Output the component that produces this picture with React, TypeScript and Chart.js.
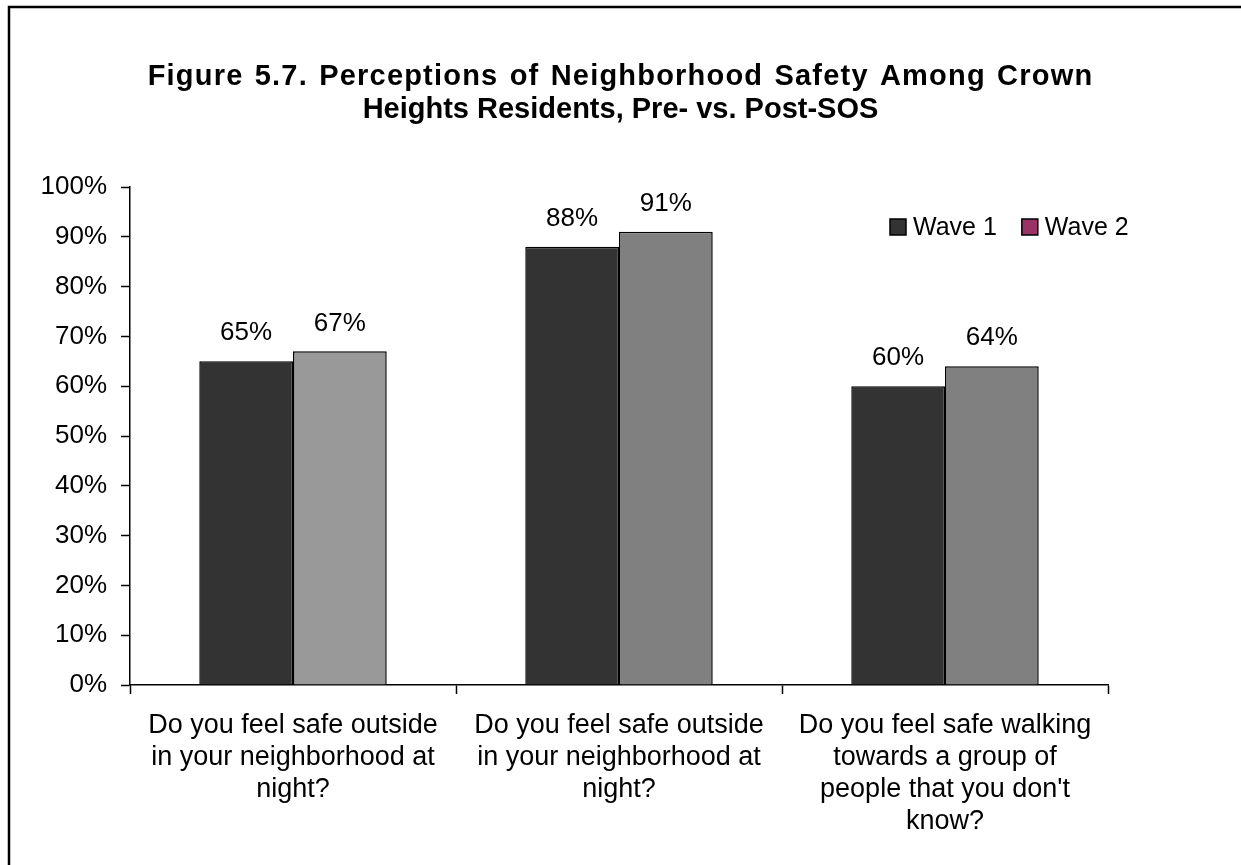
import React, { useEffect, useRef } from "react";
import { Chart, registerables } from "chart.js";

Chart.register(...registerables);

const titleLines = [
  "Figure 5.7. Perceptions of Neighborhood Safety Among Crown",
  "Heights Residents, Pre- vs. Post-SOS",
];
const categories: string[][] = [
  ["Do you feel safe outside", "in your neighborhood at", "night?"],
  ["Do you feel safe outside", "in your neighborhood at", "night?"],
  ["Do you feel safe walking", "towards a group of", "people that you don't", "know?"],
];
const seriesNames = ["Wave 1", "Wave 2"];
const wave1 = [65, 88, 60];
const wave2 = [67, 91, 64];
const wave1Colors = ["#333333", "#333333", "#333333"];
const wave2Colors = ["#999999", "#808080", "#808080"];
const legendColors = ["#333333", "#993366"];
const yMin = 0;
const yMax = 100;
const yStep = 10;

const FONT = "'Liberation Sans', Arial, sans-serif";

const overlay = {
  id: "overlay",
  beforeDraw(chart: any) {
    const ctx = chart.ctx;
    ctx.save();
    ctx.fillStyle = "#ffffff";
    ctx.fillRect(0, 0, chart.width, chart.height);
    ctx.restore();
  },
  afterDraw(chart: any) {
    const ctx = chart.ctx;
    ctx.save();
    // frame
    ctx.strokeStyle = "#000000";
    ctx.lineWidth = 2.5;
    ctx.strokeRect(9, 7, chart.width + 20, chart.height + 20);
    // title
    ctx.fillStyle = "#000000";
    ctx.font = `bold 29px ${FONT}`;
    ctx.textAlign = "center";
    ctx.textBaseline = "middle";
    titleLines.forEach((t, i) => {
      (ctx as any).letterSpacing = i === 0 ? "1.2px" : "0px";
      (ctx as any).wordSpacing = i === 0 ? "2px" : "0px";
      ctx.fillText(t, 620.5, 77 + i * 33);
    });
    (ctx as any).letterSpacing = "0px";
    (ctx as any).wordSpacing = "0px";
    // data labels
    ctx.font = `26px ${FONT}`;
    chart.data.datasets.forEach((ds: any, di: number) => {
      const meta = chart.getDatasetMeta(di);
      meta.data.forEach((el: any, i: number) => {
        ctx.fillText(ds.data[i] + "%", el.x, el.y - 28);
      });
    });
    // legend
    ctx.textAlign = "left";
    ctx.font = `25px ${FONT}`;
    let x = 890;
    const cy = 227;
    seriesNames.forEach((name, i) => {
      ctx.fillStyle = legendColors[i];
      ctx.fillRect(x, cy - 8, 16, 16);
      ctx.strokeStyle = "#000000";
      ctx.lineWidth = 1.5;
      ctx.strokeRect(x, cy - 8, 16, 16);
      ctx.fillStyle = "#000000";
      ctx.fillText(name, x + 23, cy + 1);
      x += 23 + ctx.measureText(name).width + 25;
    });
    ctx.restore();
  },
};

export default function App() {
  const ref = useRef<HTMLCanvasElement>(null);
  useEffect(() => {
    const chart = new Chart(ref.current!, {
      type: "bar",
      data: {
        labels: categories,
        datasets: [
          {
            label: seriesNames[0],
            data: wave1,
            backgroundColor: wave1Colors,
            borderColor: "#000000",
            borderWidth: 1.5,
            categoryPercentage: 0.575,
            barPercentage: 1,
          },
          {
            label: seriesNames[1],
            data: wave2,
            backgroundColor: wave2Colors,
            borderColor: "#000000",
            borderWidth: 1.5,
            categoryPercentage: 0.575,
            barPercentage: 1,
          },
        ],
      },
      options: {
        responsive: false,
        animation: false,
        layout: { padding: { top: 187, right: 133, bottom: 0, left: 0 } },
        plugins: {
          legend: { display: false },
          tooltip: { enabled: false },
          title: { display: false },
        },
        scales: {
          x: {
            grid: {
              drawOnChartArea: false,
              drawTicks: true,
              tickLength: 9,
              tickColor: "#000000",
              tickWidth: 1.5,
              offset: true,
            },
            border: { color: "#000000", width: 1.5 },
            ticks: {
              color: "#000000",
              font: { family: FONT, size: 27, lineHeight: 1.185 },
              padding: 16,
              maxRotation: 0,
              autoSkip: false,
            },
            afterFit: (s: any) => {
              s.height = 180;
            },
          },
          y: {
            min: yMin,
            max: yMax,
            grid: {
              drawOnChartArea: false,
              drawTicks: true,
              tickLength: 9,
              tickColor: "#000000",
              tickWidth: 1.5,
            },
            border: { color: "#000000", width: 1.5 },
            ticks: {
              stepSize: yStep,
              color: "#000000",
              font: { family: FONT, size: 26 },
              padding: 14,
              callback: (v: any) => v + "%",
            },
            afterFit: (s: any) => {
              s.width = 130;
            },
          },
        },
      },
      plugins: [overlay],
    });
    return () => chart.destroy();
  }, []);
  return (
    <div style={{ position: "absolute", left: 0, top: 0, width: 1241, height: 865, background: "#fff" }}>
      <canvas ref={ref} width={1241} height={865} style={{ display: "block" }} />
    </div>
  );
}
